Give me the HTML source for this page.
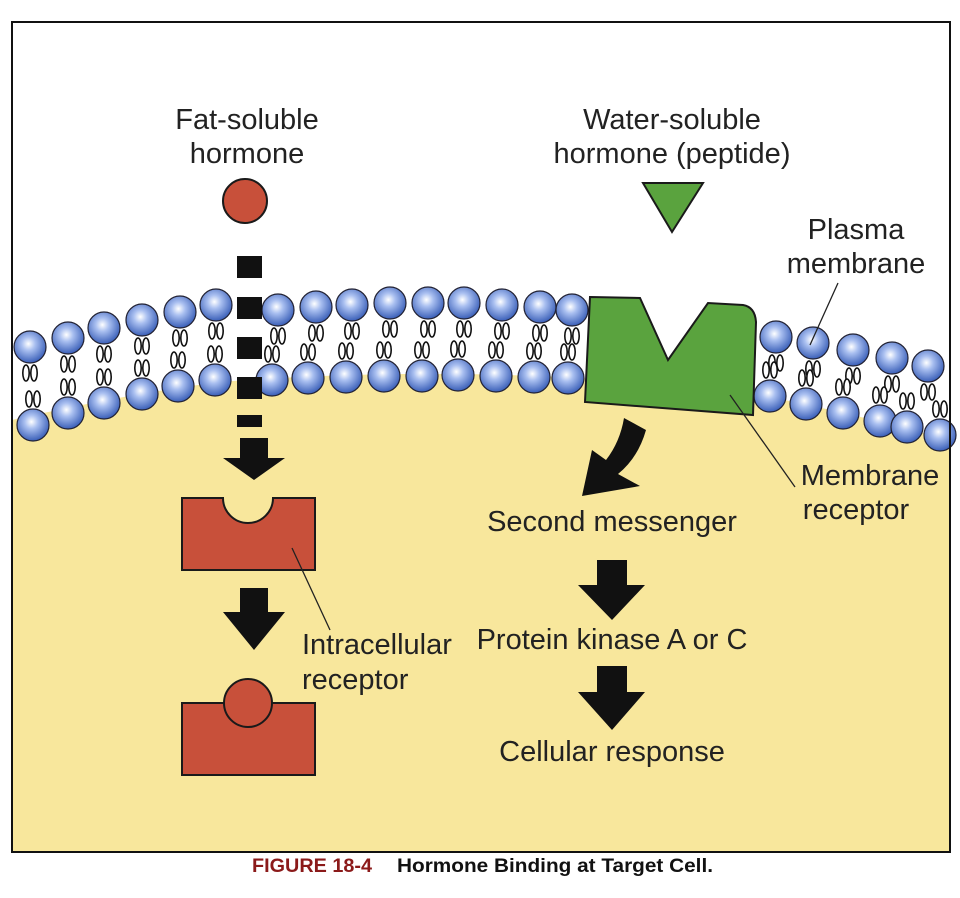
<!DOCTYPE html>
<html><head><meta charset="utf-8"><style>
body{margin:0;background:#fff;width:960px;height:898px;overflow:hidden}
svg{display:block}
text{font-family:"Liberation Sans",sans-serif;fill:#222}
</style></head><body>
<svg id="s" width="960" height="898" viewBox="0 0 960 898" xmlns="http://www.w3.org/2000/svg">
<defs>
<radialGradient id="hg" cx="0.45" cy="0.4" r="0.6">
<stop offset="0" stop-color="#ffffff"/><stop offset="0.35" stop-color="#a9bff0"/><stop offset="1" stop-color="#3a5fb8"/>
</radialGradient>
</defs>
<rect x="12" y="22" width="938" height="830" fill="#fff"/>
<path d="M12,420 Q120,395 220,382 Q400,368 580,378 L760,395 Q860,415 950,440 L950,852 L12,852 Z" fill="#f8e79c"/>
<g id="mem"></g>
<path d="M590,297 L640,298 L668,360 L708,303 L743,305 Q755,307 756,322 L753,415 L585,402 Z" fill="#5aa33e" stroke="#1a1a1a" stroke-width="2"/>
<polygon points="643,183 703,183 672,232" fill="#5aa33e" stroke="#1a1a1a" stroke-width="2"/>
<circle cx="245" cy="201" r="22" fill="#c8503a" stroke="#1a1a1a" stroke-width="2"/>
<rect x="237" y="256" width="25" height="22" fill="#111"/>
<rect x="237" y="297" width="25" height="22" fill="#111"/>
<rect x="237" y="337" width="25" height="22" fill="#111"/>
<rect x="237" y="377" width="25" height="22" fill="#111"/>
<rect x="237" y="415" width="25" height="12" fill="#111"/>
<g fill="#111">
<polygon points="240,438 268,438 268,458 285,458 254,480 223,458 240,458"/>
<polygon points="240,588 268,588 268,612 285,612 254,650 223,612 240,612"/>
<polygon points="597,560 627,560 627,585 645,585 612,620 578,585 597,585"/>
<polygon points="597,666 627,666 627,692 645,692 612,730 578,692 597,692"/>
<path d="M624,418 L646,430 Q638,458 618,474 L640,486 L582,496 L592,450 L606,460 Q620,442 624,418 Z"/>
</g>
<path d="M182,498 L223,498 A25,25 0 0 0 273,498 L315,498 L315,570 L182,570 Z" fill="#c8503a" stroke="#1a1a1a" stroke-width="2"/>
<rect x="182" y="703" width="133" height="72" fill="#c8503a" stroke="#1a1a1a" stroke-width="2"/>
<circle cx="248" cy="703" r="24" fill="#c8503a" stroke="#1a1a1a" stroke-width="2"/>
<g stroke="#222" stroke-width="1.3">
<line x1="838" y1="283" x2="810" y2="345"/>
<line x1="730" y1="395" x2="795" y2="487"/>
<line x1="292" y1="548" x2="330" y2="630"/>
</g>
<rect x="12" y="22" width="938" height="830" fill="none" stroke="#111" stroke-width="2"/>
<g font-size="29" text-anchor="middle">
<text x="247" y="129">Fat-soluble</text><text x="247" y="163">hormone</text>
<text x="672" y="129">Water-soluble</text><text x="672" y="163">hormone (peptide)</text>
<text x="856" y="239">Plasma</text><text x="856" y="273">membrane</text>
<text x="870" y="485">Membrane</text><text x="856" y="519">receptor</text>
<text x="612" y="531">Second messenger</text>
<text x="612" y="649">Protein kinase A or C</text>
<text x="612" y="761">Cellular response</text>
<text x="302" y="654" text-anchor="start">Intracellular</text>
<text x="302" y="689" text-anchor="start">receptor</text>
</g>
<text x="252" y="872" font-size="19" font-weight="bold" style="fill:#8b1a1a" textLength="120" lengthAdjust="spacingAndGlyphs">FIGURE 18-4</text>
<text x="397" y="872" font-size="19" font-weight="bold" style="fill:#111" textLength="316" lengthAdjust="spacingAndGlyphs">Hormone Binding at Target Cell.</text>
</svg>
<script>
var g=document.getElementById('mem'),h='';
var outer=[[30,347],[68,338],[104,328],[142,320],[180,312],[216,305],[278,310],[316,307],[352,305],[390,303],[428,303],[464,303],[502,305],[540,307],[572,310],[776,337],[813,343],[853,350],[892,358],[928,366]];
var inner=[[33,425],[68,413],[104,403],[142,394],[178,386],[215,380],[272,380],[308,378],[346,377],[384,376],[422,376],[458,375],[496,376],[534,377],[568,378],[770,396],[806,404],[843,413],[880,421],[907,427],[940,435]];
function tails(x,y,d){var s='';for(var k=-1;k<=1;k+=2){s+='<ellipse cx="'+(x+k*4)+'" cy="'+(y+d*26)+'" rx="3.2" ry="8" fill="#fff" stroke="#111" stroke-width="1.6"/>';}return s;}
outer.forEach(function(p){h+=tails(p[0],p[1],1);});
inner.forEach(function(p){h+=tails(p[0],p[1],-1);});
outer.concat(inner).forEach(function(p){h+='<circle cx="'+p[0]+'" cy="'+p[1]+'" r="16" fill="url(#hg)" stroke="#223" stroke-width="1.2"/>';});
g.innerHTML=h;
</script>
</body></html>
